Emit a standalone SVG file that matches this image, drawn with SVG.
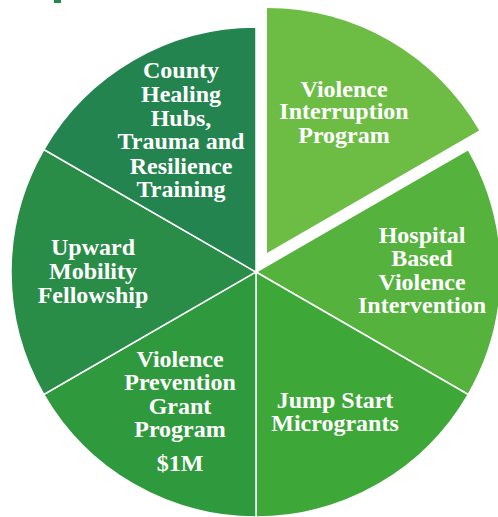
<svg xmlns="http://www.w3.org/2000/svg" width="498" height="517" viewBox="0 0 498 517">
<style>
.s{stroke:#fff;stroke-width:1.5;stroke-linejoin:miter}
.t{font-family:"Liberation Serif","Times New Roman",serif;font-weight:bold;font-size:24px;fill:#fff;text-anchor:middle}
</style>
<rect width="498" height="517" fill="#fff"/>
<rect x="54" y="0" width="7" height="3" fill="#1f8a4c"/>
<g id="connectors"></g>
<g id="hospital">
<path class="s" fill="#55B23C" d="M256,272 L468.18,149.5 A245,245 0 0 1 468.18,394.5 Z"/>
<text class="t" x="422" y="243">Hospital</text>
<text class="t" x="422" y="266">Based</text>
<text class="t" x="422" y="290">Violence</text>
<text class="t" x="422" y="313">Intervention</text>
</g>
<g id="jumpstart">
<path class="s" fill="#3DA737" d="M256,272 L468.18,394.5 A245,245 0 0 1 256,517 Z"/>
<text class="t" x="335" y="408">Jump Start</text>
<text class="t" x="335" y="431">Microgrants</text>
</g>
<g id="prevention">
<path class="s" fill="#2F9A3D" d="M256,272 L256,517 A245,245 0 0 1 43.82,394.5 Z"/>
<text class="t" x="180" y="367">Violence</text>
<text class="t" x="180" y="390">Prevention</text>
<text class="t" x="180" y="414">Grant</text>
<text class="t" x="180" y="437">Program</text>
<text class="t" x="180" y="471">$1M</text>
</g>
<g id="upward">
<path class="s" fill="#298C47" d="M256,272 L43.82,394.5 A245,245 0 0 1 43.82,149.5 Z"/>
<text class="t" x="93" y="255">Upward</text>
<text class="t" x="93" y="279">Mobility</text>
<text class="t" x="93" y="303">Fellowship</text>
</g>
<g id="county">
<path class="s" fill="#24844F" d="M256,272 L43.82,149.5 A245,245 0 0 1 256,27 Z"/>
<text class="t" x="181" y="78">County</text>
<text class="t" x="181" y="102">Healing</text>
<text class="t" x="181" y="126">Hubs,</text>
<text class="t" x="181" y="149">Trauma and</text>
<text class="t" x="181" y="174">Resilience</text>
<text class="t" x="181" y="197">Training</text>
</g>
<g id="interruption">
<path fill="#6DBD45" d="M267,253 L267,8 A245,245 0 0 1 479.18,130.5 Z"/>
<text class="t" x="344" y="97">Violence</text>
<text class="t" x="344" y="119">Interruption</text>
<text class="t" x="344" y="143">Program</text>
</g>
</svg>
